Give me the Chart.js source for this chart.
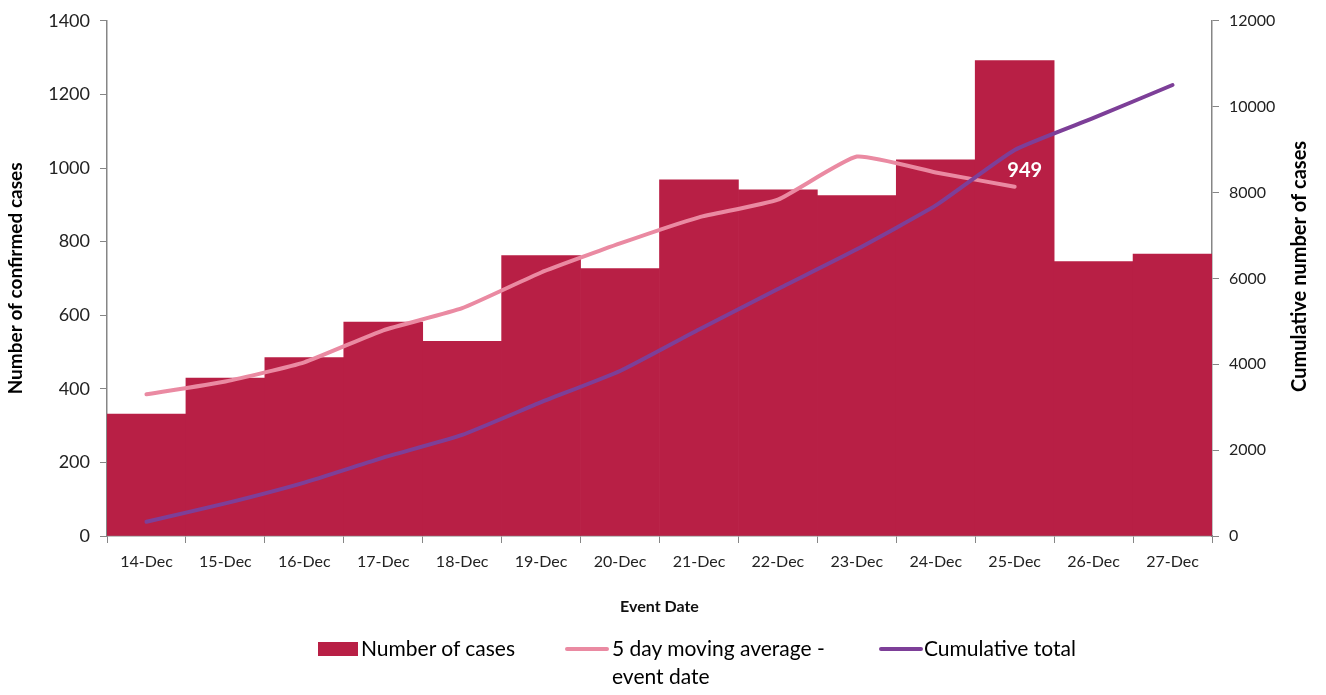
<!DOCTYPE html>
<html>
<head>
<meta charset="utf-8">
<script src="https://cdn.jsdelivr.net/npm/chart.js@4"></script>
<style>
  body { margin: 0; background: #fff; }
  #wrap { position: relative; width: 1326px; height: 695px; }
  #legend { position: absolute; top: 634px; left: 318px; font-family: Lato, "Open Sans", sans-serif; font-size: 21px; color: #000; }
  .item { position: absolute; white-space: nowrap; line-height: 28px; }
  .sw { position: absolute; }
</style>
</head>
<body>
<div id="wrap">
  <canvas id="chart" width="1326" height="695"></canvas>
  <div id="legend">
    <div class="item" style="left:0;top:0;">
      <span class="sw" style="left:0;top:8px;width:40px;height:14px;background:#b81f45;"></span>
      <span style="margin-left:43px;">Number of cases</span>
    </div>
    <div class="item" style="left:247px;top:0;">
      <span class="sw" style="left:0;top:13px;width:44px;height:4px;background:#ea8aa2;border-radius:2px;"></span>
      <span style="margin-left:47px;display:inline-block;">5 day moving average -<br>event date</span>
    </div>
    <div class="item" style="left:561px;top:0;">
      <span class="sw" style="left:0;top:13px;width:44px;height:4px;background:#7d3f98;border-radius:2px;"></span>
      <span style="margin-left:45px;">Cumulative total</span>
    </div>
  </div>
</div>
<script>
// Daily confirmed cases by event date
const dates = ['14-Dec', '15-Dec', '16-Dec', '17-Dec', '18-Dec', '19-Dec', '20-Dec',
               '21-Dec', '22-Dec', '23-Dec', '24-Dec', '25-Dec', '26-Dec', '27-Dec'];
const cases = [331, 429, 485, 581, 529, 762, 727, 968, 941, 925, 1022, 1292, 746, 766];
const movingAvg = [385, 420, 472, 559, 619, 716, 795, 866, 914, 1031, 988, 949, null, null];
const cumulative = [331, 760, 1245, 1826, 2355, 3117, 3844, 4812, 5753, 6678, 7700, 8992, 9738, 10504];
const leftTicks = [0, 200, 400, 600, 800, 1000, 1200, 1400];
const rightTicks = [0, 2000, 4000, 6000, 8000, 10000, 12000];

const FONT = 'Lato, "Open Sans", sans-serif';
const axisGrey = '#868686';

// white "949" label next to the last moving average point,
// plus the right axis title drawn bottom-to-top like the left one
const extras = {
    id: 'extras',
    afterDatasetsDraw(chart) {
        const ctx = chart.ctx;
        const meta = chart.getDatasetMeta(1);
        const idx = 11;
        const pt = meta.data[idx];
        if (pt) {
            ctx.save();
            ctx.font = 'bold 20px ' + FONT;
            ctx.fillStyle = '#fff';
            ctx.textAlign = 'center';
            ctx.textBaseline = 'middle';
            ctx.fillText(String(movingAvg[idx]), pt.x + 10, pt.y - 16);
            ctx.restore();
        }
        const area = chart.chartArea;
        ctx.save();
        ctx.translate(chart.width - 26, (area.top + area.bottom) / 2 - 12);
        ctx.rotate(-Math.PI / 2);
        ctx.font = 'bold 20px ' + FONT;
        ctx.fillStyle = '#000';
        ctx.textAlign = 'center';
        ctx.textBaseline = 'middle';
        ctx.fillText('Cumulative number of cases', 0, 0);
        ctx.restore();
    }
};

new Chart(document.getElementById('chart').getContext('2d'), {
    type: 'bar',
    data: {
        labels: dates,
        datasets: [
            {
                type: 'bar',
                label: 'Number of cases',
                data: cases,
                backgroundColor: '#b81f45',
                categoryPercentage: 1,
                barPercentage: 1,
                yAxisID: 'y',
                order: 3
            },
            {
                type: 'line',
                label: '5 day moving average - event date',
                data: movingAvg,
                borderColor: '#ea8aa2',
                borderWidth: 4,
                pointRadius: 0,
                tension: 0.15,
                borderCapStyle: 'round',
                yAxisID: 'y',
                order: 2
            },
            {
                type: 'line',
                label: 'Cumulative total',
                data: cumulative,
                borderColor: '#7d3f98',
                borderWidth: 4,
                pointRadius: 0,
                tension: 0.15,
                borderCapStyle: 'round',
                yAxisID: 'y1',
                order: 1
            }
        ]
    },
    options: {
        responsive: false,
        animation: false,
        layout: { padding: { top: 20, bottom: 75, left: 0, right: 0 } },
        plugins: {
            legend: { display: false },
            tooltip: { enabled: false }
        },
        scales: {
            x: {
                grid: { display: true, drawOnChartArea: false, color: axisGrey, tickLength: 7, offset: true },
                border: { color: axisGrey, width: 1.5 },
                ticks: { color: '#222', font: { family: FONT, size: 16 }, maxRotation: 0, padding: 9 },
                title: { display: true, text: 'Event Date', color: '#111', font: { family: FONT, size: 16, weight: 'bold' }, padding: { top: 9 } },
                afterFit(s) { s.height = 84; }
            },
            y: {
                position: 'left',
                min: 0, max: 1400,
                afterBuildTicks(s) { s.ticks = leftTicks.map(v => ({ value: v })); },
                grid: { display: true, drawOnChartArea: false, color: axisGrey, tickLength: 7 },
                border: { color: axisGrey, width: 1.5 },
                ticks: { color: '#222', font: { family: FONT, size: 18 }, padding: 10, callback: v => String(v) },
                title: { display: true, text: 'Number of confirmed cases', color: '#000', font: { family: FONT, size: 19, weight: 'bold' } },
                afterFit(s) { s.width = 107; }
            },
            y1: {
                position: 'right',
                min: 0, max: 12000,
                afterBuildTicks(s) { s.ticks = rightTicks.map(v => ({ value: v })); },
                grid: { display: true, drawOnChartArea: false, color: axisGrey, tickLength: 7 },
                border: { color: axisGrey, width: 1.5 },
                ticks: { color: '#222', font: { family: FONT, size: 16 }, padding: 10, callback: v => String(v) },
                title: { display: false },
                afterFit(s) { s.width = 114; }
            }
        }
    },
    plugins: [extras]
});
</script>
</body>
</html>
